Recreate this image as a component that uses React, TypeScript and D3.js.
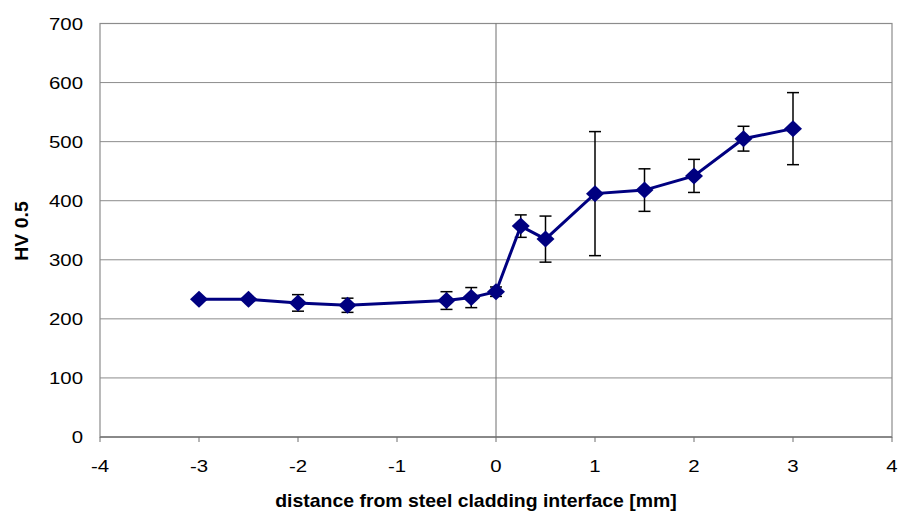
import React from "react";
import * as d3 from "d3";

const distances = [-3, -2.5, -2, -1.5, -0.5, -0.25, 0, 0.25, 0.5, 1, 1.5, 2, 2.5, 3];
const hardness = [233, 233, 227, 223, 231, 236, 246, 357, 335, 412, 418, 442, 505, 522];
const errors = [0, 0, 14, 12, 15, 17, 8, 19, 39, 105, 36, 28, 21, 61];
const xTicks = [-4, -3, -2, -1, 0, 1, 2, 3, 4];
const yTicks = [0, 100, 200, 300, 400, 500, 600, 700];

export default function App() {
  const W = 900, H = 513;
  const left = 100, right = 892, top = 23.5, bottom = 437;
  const x = d3.scaleLinear().domain([-4, 4]).range([left, right]);
  const y = d3.scaleLinear().domain([0, 700]).range([bottom, top]);
  const line = d3.line<number>().x((_, i) => x(distances[i])).y((d) => y(d));
  const font = "'Liberation Sans', Arial, sans-serif";
  return (
    <svg width={W} height={H} style={{ position: "absolute", left: 0, top: 0, background: "#fff" }}>
      {yTicks.map((t) => (
        <line key={"g" + t} x1={left} x2={right} y1={y(t)} y2={y(t)} stroke="#8c8c8c" strokeWidth={1} />
      ))}
      <rect x={left} y={top} width={right - left} height={bottom - top} fill="none" stroke="#8c8c8c" strokeWidth={1.2} />
      <line x1={x(0)} x2={x(0)} y1={top} y2={bottom} stroke="#6e6e6e" strokeWidth={1} />
      <line x1={left} x2={right} y1={bottom} y2={bottom} stroke="#6e6e6e" strokeWidth={1} />
      {xTicks.map((t) => (
        <g key={"x" + t}>
          <line x1={x(t)} x2={x(t)} y1={bottom} y2={bottom + 5} stroke="#6e6e6e" />
          <text transform={`translate(${x(t)},472) scale(1.2,1)`} textAnchor="middle" fontFamily={font} fontSize={17} fill="#000">{t}</text>
        </g>
      ))}
      {yTicks.map((t) => (
        <text key={"y" + t} transform={`translate(83,${y(t) + 6}) scale(1.2,1)`} textAnchor="end" fontFamily={font} fontSize={17} fill="#000">{t}</text>
      ))}
      <text transform="translate(476,507) scale(1.08,1)" textAnchor="middle" fontFamily={font} fontSize={18} fontWeight="bold">distance from steel cladding interface [mm]</text>
      <text transform={`translate(28,${231}) rotate(-90) scale(1.08,1)`} textAnchor="middle" fontFamily={font} fontSize={18} fontWeight="bold">HV 0.5</text>
      {distances.map((d, i) =>
        errors[i] > 0 ? (
          <g key={"e" + i} stroke="#000" strokeWidth={1.5}>
            <line x1={x(d)} x2={x(d)} y1={y(hardness[i] - errors[i])} y2={y(hardness[i] + errors[i])} />
            <line x1={x(d) - 6} x2={x(d) + 6} y1={y(hardness[i] - errors[i])} y2={y(hardness[i] - errors[i])} />
            <line x1={x(d) - 6} x2={x(d) + 6} y1={y(hardness[i] + errors[i])} y2={y(hardness[i] + errors[i])} />
          </g>
        ) : null
      )}
      <path d={line(hardness) || ""} fill="none" stroke="#000080" strokeWidth={3} />
      {distances.map((d, i) => (
        <path
          key={"m" + i}
          d={`M${x(d)},${y(hardness[i]) - 8.5} L${x(d) + 9},${y(hardness[i])} L${x(d)},${y(hardness[i]) + 8.5} L${x(d) - 9},${y(hardness[i])} Z`}
          fill="#000080"
        />
      ))}
    </svg>
  );
}
